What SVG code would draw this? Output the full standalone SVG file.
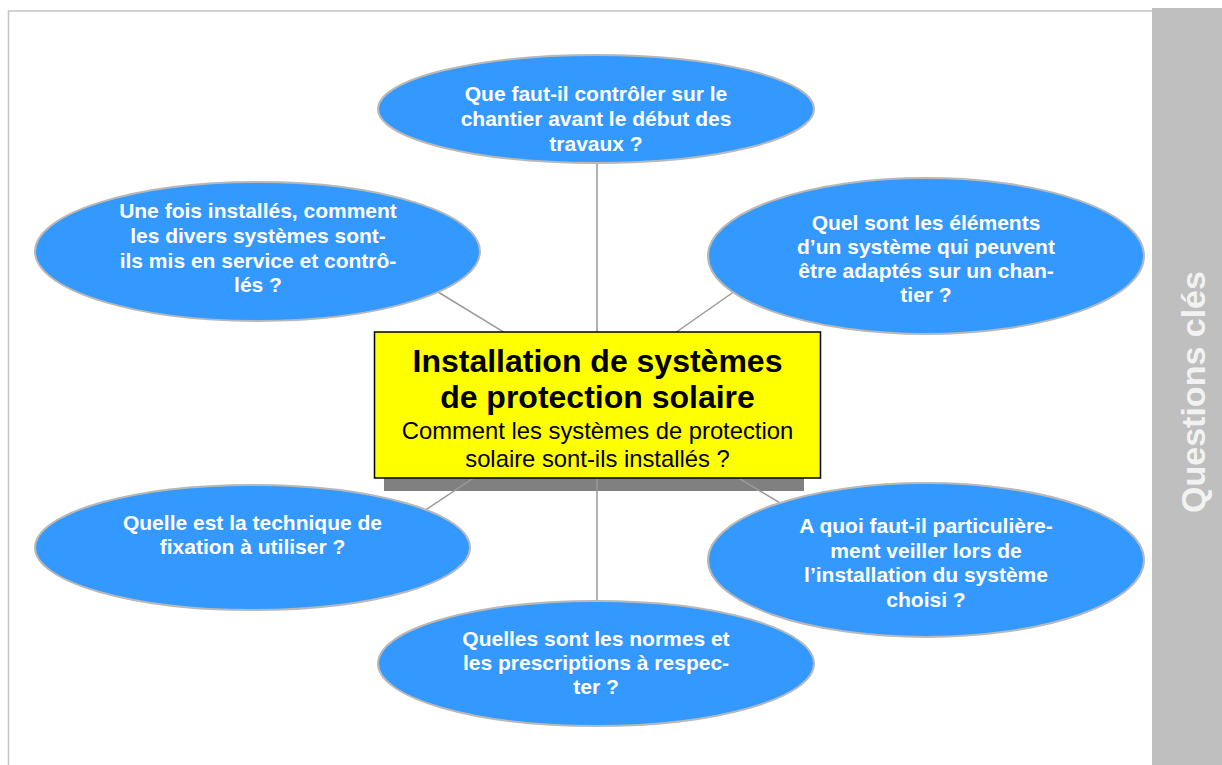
<svg xmlns="http://www.w3.org/2000/svg" width="1222" height="765" viewBox="0 0 1222 765">
<style>
.q{fill:#3399ff;stroke:#b8b8b8;stroke-width:2}
.qt{font-family:"Liberation Sans",Arial,sans-serif;font-weight:bold;font-size:21px;fill:#ffffff;text-anchor:middle}
.c{stroke:#999999;stroke-width:1.5;fill:none}
.tt{font-family:"Liberation Sans",Arial,sans-serif;text-anchor:middle;fill:#000000}
</style>
<rect x="0" y="0" width="1222" height="765" fill="#ffffff"/>
<rect x="8.5" y="11" width="1160" height="780" fill="none" stroke="#c4c4c4" stroke-width="1.5"/>
<g id="band">
<rect x="1152" y="8" width="70" height="757" fill="#bfbfbf"/>
<text x="0" y="0" transform="translate(1205,392) rotate(-90)" font-family="'Liberation Sans',Arial,sans-serif" font-weight="bold" font-size="34" fill="#f2f2f2" text-anchor="middle">Questions clés</text>
</g>
<g id="shadow">
<rect x="384" y="340" width="420" height="151" fill="#808080"/>
</g>
<g id="connectors">
<line class="c" x1="597" y1="150" x2="597" y2="345"/>
<line class="c" x1="420" y1="281" x2="520" y2="342"/>
<line class="c" x1="745" y1="284" x2="665" y2="340"/>
<line class="c" x1="487" y1="469" x2="415" y2="517"/>
<line class="c" x1="725" y1="470" x2="795" y2="512"/>
<line class="c" x1="597" y1="470" x2="597" y2="612"/>
</g>
<g id="n-top">
<ellipse class="q" cx="596" cy="109" rx="218" ry="54"/>
<text class="qt" x="596" y="101">Que faut-il contrôler sur le</text>
<text class="qt" x="596" y="126">chantier avant le début des</text>
<text class="qt" x="596" y="151">travaux ?</text>
</g>
<g id="n-topleft">
<ellipse class="q" cx="257.5" cy="251.5" rx="222.5" ry="69.5"/>
<text class="qt" x="258" y="218">Une fois installés, comment</text>
<text class="qt" x="258" y="243">les divers systèmes sont-</text>
<text class="qt" x="258" y="268">ils mis en service et contrô-</text>
<text class="qt" x="258" y="292">lés ?</text>
</g>
<g id="n-topright">
<ellipse class="q" cx="926" cy="256" rx="218" ry="78"/>
<text class="qt" x="926" y="230">Quel sont les éléments</text>
<text class="qt" x="926" y="254">d’un système qui peuvent</text>
<text class="qt" x="926" y="278">être adaptés sur un chan-</text>
<text class="qt" x="926" y="302">tier ?</text>
</g>
<g id="n-bottomleft">
<ellipse class="q" cx="252.5" cy="547.5" rx="217.5" ry="62.5"/>
<text class="qt" x="252.5" y="530">Quelle est la technique de</text>
<text class="qt" x="252.5" y="554">fixation à utiliser ?</text>
</g>
<g id="n-bottomright">
<ellipse class="q" cx="926" cy="560" rx="218" ry="77"/>
<text class="qt" x="926" y="533">A quoi faut-il particulière-</text>
<text class="qt" x="926" y="558">ment veiller lors de</text>
<text class="qt" x="926" y="582">l’installation du système</text>
<text class="qt" x="926" y="607">choisi ?</text>
</g>
<g id="n-bottom">
<ellipse class="q" cx="596" cy="663.5" rx="218" ry="62.5"/>
<text class="qt" x="596" y="646">Quelles sont les normes et</text>
<text class="qt" x="596" y="670">les prescriptions à respec-</text>
<text class="qt" x="596" y="694">ter ?</text>
</g>
<g id="n-center">
<rect x="374.5" y="332" width="446" height="146" fill="#ffff00" stroke="#000000" stroke-width="1.5"/>
<text class="tt" x="597.5" y="372" font-size="32" font-weight="bold">Installation de systèmes</text>
<text class="tt" x="597.5" y="408" font-size="32" font-weight="bold">de protection solaire</text>
<text class="tt" x="597.5" y="439" font-size="23.8">Comment les systèmes de protection</text>
<text class="tt" x="597.5" y="467" font-size="23.8">solaire sont-ils installés ?</text>
</g>
</svg>
